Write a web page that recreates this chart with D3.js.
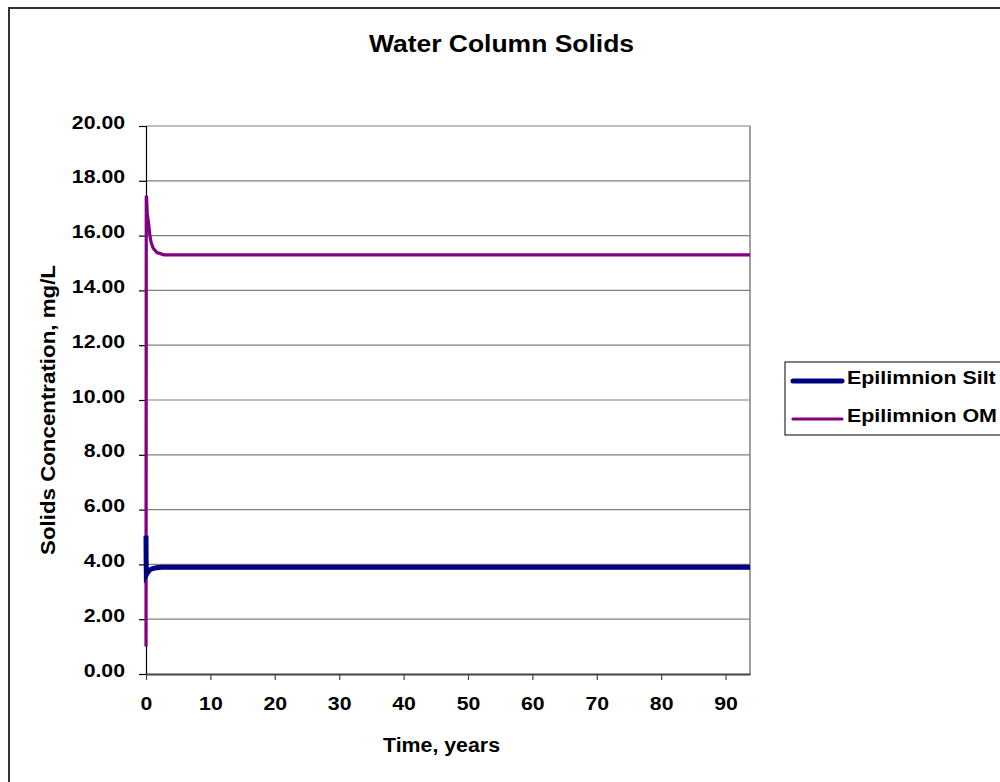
<!DOCTYPE html>
<html>
<head>
<meta charset="utf-8">
<script src="https://cdn.jsdelivr.net/npm/d3@7"></script>
<style>
  html, body { margin: 0; padding: 0; background: #fff; }
  svg { display: block; font-family: "Liberation Sans", Arial, sans-serif; }
</style>
</head>
<body>
<svg id="chart" width="1000" height="782"></svg>
<script>
// Simulated time series (years) and epilimnion solids concentrations (mg/L)
const siltTime = [0, 0.02, 0.05, 0.15, 0.3, 0.6, 1.0, 1.6, 2.5, 93.8];
const siltConc = [5.05, 4.2, 3.62, 3.66, 3.72, 3.8, 3.85, 3.88, 3.9, 3.9];
const omTime = [0, 0.04, 0.08, 0.2, 0.4, 0.6, 0.8, 1.1, 1.7, 2.8, 93.8];
const omConc = [1.0, 17.4, 17.45, 16.8, 16.45, 16.0, 15.75, 15.55, 15.38, 15.3, 15.3];

const seriesNames = ["Epilimnion Silt", "Epilimnion OM"];
const seriesColors = ["#000080", "#800080"];
const yTicks = [0, 2, 4, 6, 8, 10, 12, 14, 16, 18, 20];
const xTicks = [0, 10, 20, 30, 40, 50, 60, 70, 80, 90];

const FONT = "'Liberation Sans', Arial, sans-serif";
const svg = d3.select("#chart");

// Widen text glyphs slightly, as in the chart's original typeface
function widen(sel, factor) {
  sel.each(function () {
    const w = this.getComputedTextLength();
    d3.select(this).attr("textLength", w * factor).attr("lengthAdjust", "spacingAndGlyphs");
  });
}

// Outer chart frame
svg.append("rect")
  .attr("x", 9).attr("y", 8).attr("width", 1100).attr("height", 900)
  .attr("fill", "none").attr("stroke", "#333").attr("stroke-width", 2);

const plot = { left: 146, top: 126, right: 750, bottom: 674 };

const x = d3.scaleLinear().domain([0, 93.8]).range([plot.left, plot.right]);
const y = d3.scaleLinear().domain([0, 20]).range([plot.bottom, plot.top]);

// Horizontal gridlines
svg.append("g")
  .selectAll("line")
  .data(yTicks.slice(1))
  .join("line")
  .attr("x1", plot.left).attr("x2", plot.right)
  .attr("y1", d => y(d)).attr("y2", d => y(d))
  .attr("stroke", "#808080").attr("stroke-width", 1.2);

// Right border of plot area
svg.append("line")
  .attr("x1", plot.right).attr("x2", plot.right)
  .attr("y1", plot.top).attr("y2", plot.bottom)
  .attr("stroke", "#808080").attr("stroke-width", 1.5);

// Axes
const yAxis = d3.axisLeft(y).tickValues(yTicks).tickSize(7).tickPadding(14)
  .tickFormat(d3.format(".2f"));
const gy = svg.append("g").attr("transform", `translate(${plot.left},0)`).call(yAxis);
gy.select(".domain").attr("stroke", "#000").attr("stroke-width", 1.2);
gy.selectAll(".tick line").attr("stroke", "#000").attr("stroke-width", 1.2);
gy.selectAll("text").attr("font-size", 18).attr("font-weight", "bold").attr("fill", "#000")
  .attr("font-family", FONT).attr("x", -21).attr("dy", "0.12em");
widen(gy.selectAll("text"), 1.18);

const xAxis = d3.axisBottom(x).tickValues(xTicks).tickSize(6).tickPadding(12)
  .tickSizeOuter(0);
const gx = svg.append("g").attr("transform", `translate(0,${plot.bottom})`).call(xAxis);
gx.select(".domain").attr("stroke", "#444").attr("stroke-width", 2);
gx.selectAll(".tick line").attr("stroke", "#444").attr("stroke-width", 1.2);
gx.selectAll("text").attr("font-size", 18).attr("font-weight", "bold").attr("fill", "#000")
  .attr("font-family", FONT).attr("y", 36).attr("dy", 0);
widen(gx.selectAll("text"), 1.18);

// Series lines
const line = d3.line().x(d => x(d[0])).y(d => y(d[1]));
const omData = omTime.map((t, i) => [t, omConc[i]]);
const siltData = siltTime.map((t, i) => [t, siltConc[i]]);

svg.append("path").datum(omData)
  .attr("d", line).attr("fill", "none")
  .attr("stroke", seriesColors[1]).attr("stroke-width", 3.2);

svg.append("path").datum(siltData)
  .attr("d", line).attr("fill", "none")
  .attr("stroke", seriesColors[0]).attr("stroke-width", 5);

// Title and axis labels
svg.append("text").attr("x", 501.5).attr("y", 52).attr("text-anchor", "middle")
  .attr("font-size", 23.5).attr("font-weight", "bold")
  .attr("textLength", 265).attr("lengthAdjust", "spacingAndGlyphs")
  .text("Water Column Solids");

svg.append("text").attr("x", 441.5).attr("y", 752).attr("text-anchor", "middle")
  .attr("font-size", 20).attr("font-weight", "bold")
  .attr("textLength", 117).attr("lengthAdjust", "spacingAndGlyphs")
  .text("Time, years");

svg.append("text").attr("transform", "translate(55,410) rotate(-90)")
  .attr("text-anchor", "middle")
  .attr("font-size", 20).attr("font-weight", "bold")
  .attr("textLength", 290).attr("lengthAdjust", "spacingAndGlyphs")
  .text("Solids Concentration, mg/L");

// Legend
const legend = svg.append("g");
legend.append("rect").attr("x", 785).attr("y", 362).attr("width", 260).attr("height", 73)
  .attr("fill", "#fff").attr("stroke", "#000").attr("stroke-width", 1);
seriesNames.forEach((name, i) => {
  const ly = 381 + i * 38;
  legend.append("line").attr("x1", 793).attr("x2", 842).attr("y1", ly).attr("y2", ly)
    .attr("stroke", seriesColors[i]).attr("stroke-width", i === 0 ? 5 : 3.2)
    .attr("stroke-linecap", "round");
  const t = legend.append("text").attr("x", 847).attr("y", ly + 3)
    .attr("font-size", 18).attr("font-weight", "bold").text(name);
  widen(t, 1.19);
});
</script>
</body>
</html>
